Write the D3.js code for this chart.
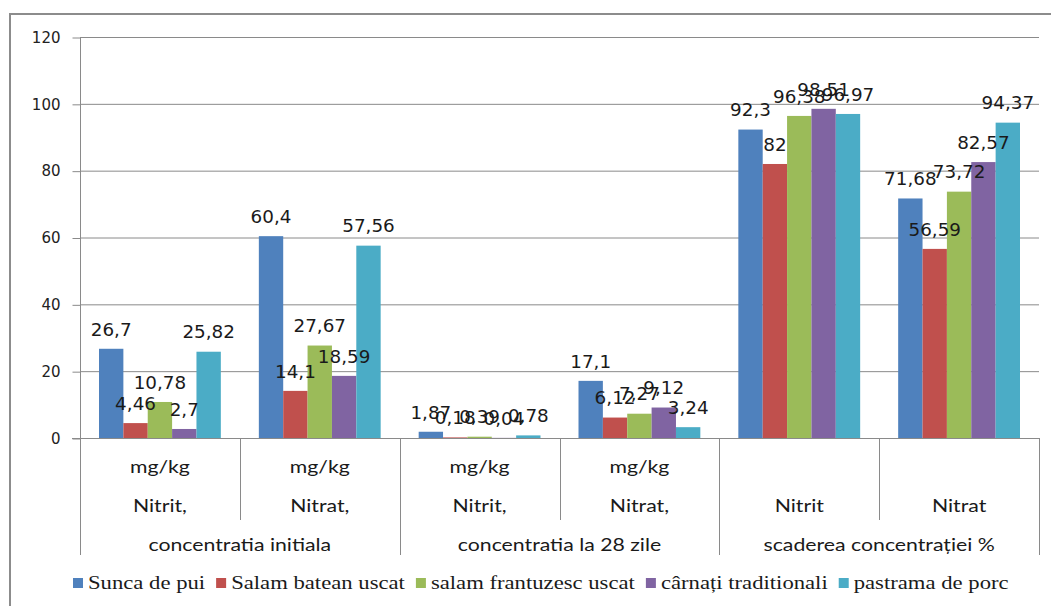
<!DOCTYPE html>
<html>
<head>
<meta charset="utf-8">
<script src="https://cdn.jsdelivr.net/npm/d3@7"></script>
<style>
  html, body { margin: 0; padding: 0; background: #fff; }
  svg { display: block; }
</style>
</head>
<body>
<svg id="chart" width="1051" height="606"></svg>
<script>
// ---- data ----
const categories = ["Nitrit,", "Nitrat,", "Nitrit,", "Nitrat,", "Nitrit", "Nitrat"];
const units = ["mg/kg", "mg/kg", "mg/kg", "mg/kg", "", ""];
const groups = ["concentratia initiala", "concentratia la 28 zile", "scaderea concentrației %"];
const seriesNames = ["Sunca de pui", "Salam batean uscat", "salam frantuzesc uscat", "cârnați traditionali", "pastrama de porc"];
const suncaDePui = [26.7, 60.4, 1.87, 17.1, 92.3, 71.68];
const salamBatean = [4.46, 14.1, 0.18, 6.12, 82, 56.59];
const salamFrantuzesc = [10.78, 27.67, 0.39, 7.27, 96.38, 73.72];
const carnatiTraditionali = [2.7, 18.59, 0.04, 9.12, 98.51, 82.57];
const pastramaDePorc = [25.82, 57.56, 0.78, 3.24, 96.97, 94.37];
const yTicks = [0, 20, 40, 60, 80, 100, 120];
const colors = ["#4F81BD", "#C0504D", "#9BBB59", "#8064A2", "#4BACC6"];

const seriesValues = [suncaDePui, salamBatean, salamFrantuzesc, carnatiTraditionali, pastramaDePorc];

// ---- layout ----
const svg = d3.select("#chart");
const plot = { left: 80, right: 1039, top: 37, bottom: 438 };
const gridColor = "#8a8a8a";

// outer border
svg.append("rect").attr("x", 10).attr("y", 14).attr("width", 1060).attr("height", 620)
  .attr("fill", "none").attr("stroke", "#8c8c8c").attr("stroke-width", 2);

const y = d3.scaleLinear().domain([0, 120]).range([plot.bottom, plot.top]);
const x0 = d3.scaleBand().domain(d3.range(categories.length)).range([plot.left, plot.right]).padding(0);
const x1 = d3.scaleBand().domain(d3.range(seriesNames.length)).range([0, x0.bandwidth()])
  .paddingInner(0).paddingOuter(0.78);

// gridlines
svg.append("g").selectAll("line").data(yTicks.filter(t => t > 0)).join("line")
  .attr("x1", plot.left).attr("x2", plot.right)
  .attr("y1", d => y(d) + 0.5).attr("y2", d => y(d) + 0.5)
  .attr("stroke", gridColor).attr("stroke-width", 1);

// y axis
const yAxis = d3.axisLeft(y).tickValues(yTicks).tickSize(8).tickPadding(10).tickFormat(d => d);
const yg = svg.append("g").attr("transform", `translate(${plot.left + 0.5},0.5)`).call(yAxis);
yg.select(".domain").remove();
yg.selectAll(".tick line").attr("stroke", gridColor);
yg.selectAll(".tick text").attr("font-family", "DejaVu Sans, Verdana, sans-serif")
  .attr("font-size", 15).attr("fill", "#222").attr("dx", -2);
// y axis line extends down into category area
svg.append("line").attr("x1", plot.left + 0.5).attr("x2", plot.left + 0.5)
  .attr("y1", plot.top).attr("y2", 555).attr("stroke", gridColor);
// baseline
svg.append("line").attr("x1", plot.left - 8).attr("x2", plot.right)
  .attr("y1", plot.bottom + 0.5).attr("y2", plot.bottom + 0.5).attr("stroke", gridColor);

// category separators
const boundaries = d3.range(categories.length + 1);
svg.append("g").selectAll("line").data(boundaries.slice(1)).join("line")
  .attr("x1", i => Math.round(i < categories.length ? x0(i) : plot.right) + 0.5)
  .attr("x2", i => Math.round(i < categories.length ? x0(i) : plot.right) + 0.5)
  .attr("y1", plot.bottom)
  .attr("y2", i => (i % 2 === 0) ? 555 : 520)
  .attr("stroke", gridColor);

// helper for horizontally stretched text
function stretchedText(parent, x, yPos, str, opts) {
  const g = parent.append("g").attr("transform", `translate(${x},${yPos}) scale(${opts.sx || 1},1)`);
  return g.append("text").text(str)
    .attr("text-anchor", opts.anchor || "middle")
    .attr("dominant-baseline", "central")
    .attr("font-size", opts.size)
    .attr("fill", opts.fill || "#1a1a1a")
    .style("font-family", opts.family);
}

// bars
const barsG = svg.append("g");
seriesValues.forEach((vals, s) => {
  barsG.append("g").selectAll("rect").data(vals).join("rect")
    .attr("x", (d, i) => x0(i) + x1(s))
    .attr("y", d => y(d))
    .attr("width", x1.bandwidth())
    .attr("height", d => y(0) - y(d))
    .attr("fill", colors[s]);
});

// data labels
const labelsG = svg.append("g");
seriesValues.forEach((vals, s) => {
  vals.forEach((v, i) => {
    stretchedText(labelsG, x0(i) + x1(s) + x1.bandwidth() / 2, y(v) - 19,
      String(v).replace(".", ","),
      { family: "'DejaVu Sans', Verdana, sans-serif", size: 17, sx: 1.08, fill: "#1a1a1a" });
  });
});

// category labels
const catFont = "Lato, Calibri, sans-serif";
categories.forEach((c, i) => {
  const cx = x0(i) + x0.bandwidth() / 2;
  if (units[i]) stretchedText(svg, cx, 466, units[i], { family: catFont, size: 17, sx: 1.25 });
  stretchedText(svg, cx, 505, c, { family: catFont, size: 17, sx: 1.25 });
});
groups.forEach((g, gi) => {
  const cx = x0(gi * 2) + x0.bandwidth();
  stretchedText(svg, cx, 544, g, { family: catFont, size: 17, sx: 1.25 });
});

// legend
const legendG = svg.append("g");
let lx = 73;
const ly = 583;
const serifFont = "'Liberation Serif', Tinos, 'Times New Roman', Times, 'DejaVu Serif', 'Noto Serif', FreeSerif, serif";
seriesNames.forEach((name, s) => {
  legendG.append("rect").attr("x", lx).attr("y", ly - 5).attr("width", 10).attr("height", 10)
    .attr("fill", colors[s]);
  const t = stretchedText(legendG, lx + 15, ly, name,
    { family: serifFont, size: 18, sx: 1.26, anchor: "start" });
  const w = t.node().getComputedTextLength() * 1.26;
  lx += 15 + w + 11;
});
</script>
</body>
</html>
